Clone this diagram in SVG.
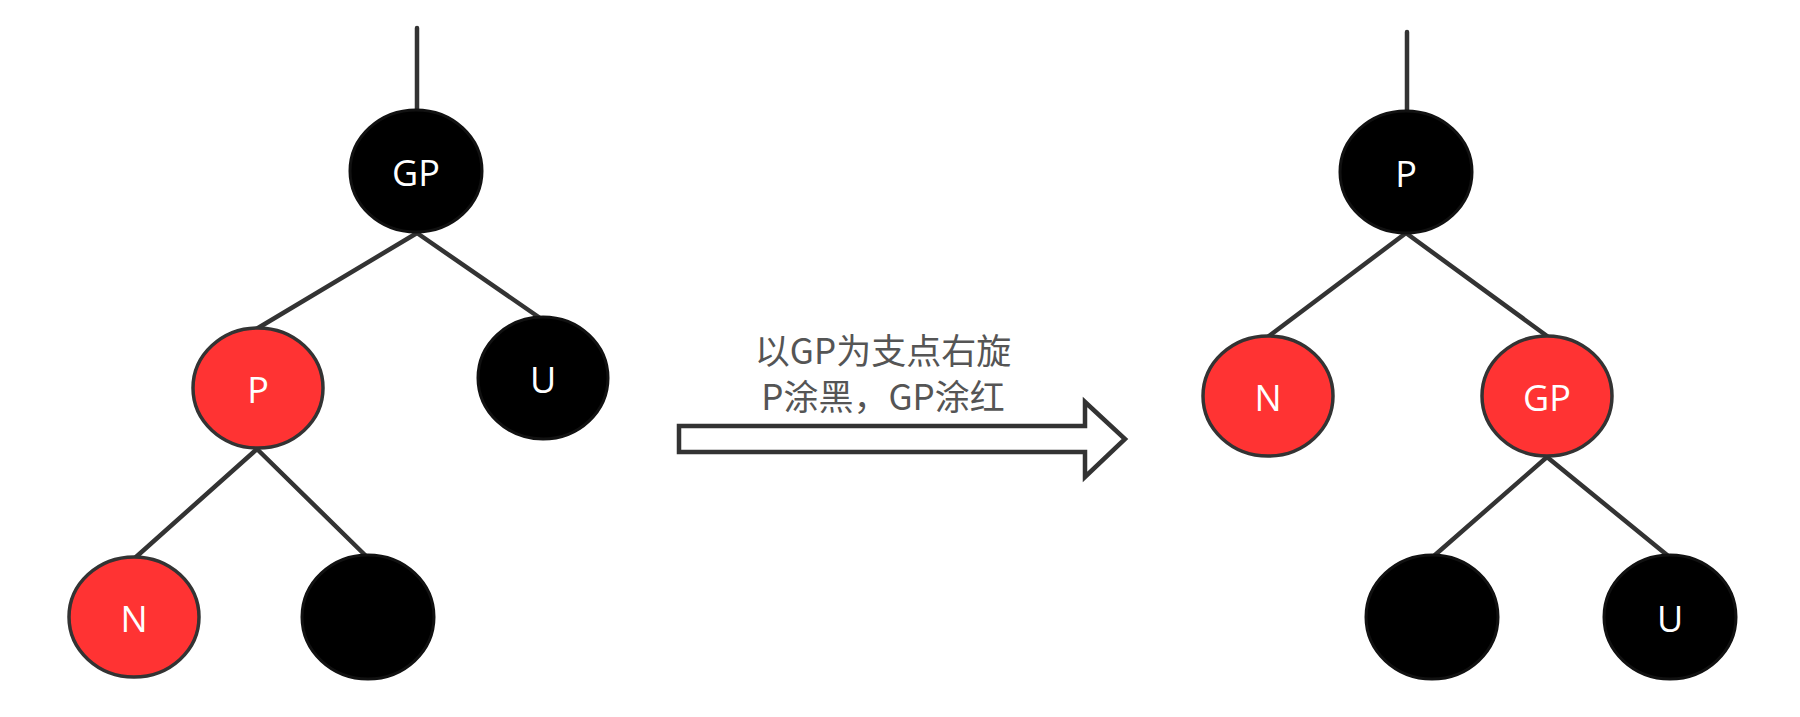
<svg xmlns="http://www.w3.org/2000/svg" width="1800" height="717" viewBox="0 0 1800 717">
<style>
.edge{stroke:#333;stroke-width:4.5;fill:none;stroke-linecap:round}
.blk{fill:#000;stroke:#111;stroke-width:3}
.red{fill:#FF3333;stroke:#333;stroke-width:3.5}
.lbl{font-family:"Open Sans","Noto Sans","DejaVu Sans",sans-serif;font-size:36px;fill:#fff;text-anchor:middle}
.cap{font-family:"Noto Sans CJK SC","Noto Sans",sans-serif;font-size:35px;fill:#555;text-anchor:middle}
</style>
<rect width="1800" height="717" fill="#fff"/>
<g id="connectors">
<line class="edge" x1="417" y1="28" x2="417" y2="112"/>
<line class="edge" x1="417" y1="233" x2="258" y2="328"/>
<line class="edge" x1="417" y1="233" x2="540" y2="318"/>
<line class="edge" x1="257" y1="449" x2="136" y2="557"/>
<line class="edge" x1="257" y1="449" x2="366" y2="556"/>
<line class="edge" x1="1407" y1="32" x2="1407" y2="112"/>
<line class="edge" x1="1406" y1="233" x2="1269" y2="336"/>
<line class="edge" x1="1406" y1="233" x2="1547" y2="336"/>
<line class="edge" x1="1547" y1="457" x2="1435" y2="555"/>
<line class="edge" x1="1547" y1="457" x2="1667" y2="555"/>
</g>
<g id="L-GP"><ellipse class="blk" cx="416" cy="171" rx="66" ry="61"/><text class="lbl" x="416" y="186">GP</text></g>
<g id="L-P"><ellipse class="red" cx="258" cy="388" rx="65" ry="60"/><text class="lbl" x="258" y="403">P</text></g>
<g id="L-U"><ellipse class="blk" cx="543" cy="378" rx="65" ry="61"/><text class="lbl" x="543" y="393">U</text></g>
<g id="L-N"><ellipse class="red" cx="134" cy="617" rx="65" ry="60"/><text class="lbl" x="134" y="632">N</text></g>
<g id="L-leaf"><ellipse class="blk" cx="368" cy="617" rx="66" ry="62"/></g>
<g id="arrow">
<path d="M679,426 L1085,426 L1085,402 L1125,439 L1085,477 L1085,452 L679,452 Z" fill="#fff" stroke="#333" stroke-width="4.5" stroke-linejoin="miter"/>
<text class="cap" x="883" y="364">以GP为支点右旋</text>
<text class="cap" x="883" y="410">P涂黑，GP涂红</text>
</g>
<g id="R-P"><ellipse class="blk" cx="1406" cy="172" rx="66" ry="61"/><text class="lbl" x="1406" y="187">P</text></g>
<g id="R-N"><ellipse class="red" cx="1268" cy="396" rx="65" ry="60"/><text class="lbl" x="1268" y="411">N</text></g>
<g id="R-GP"><ellipse class="red" cx="1547" cy="396" rx="65" ry="60"/><text class="lbl" x="1547" y="411">GP</text></g>
<g id="R-leaf"><ellipse class="blk" cx="1432" cy="617" rx="66" ry="62"/></g>
<g id="R-U"><ellipse class="blk" cx="1670" cy="617" rx="66" ry="62"/><text class="lbl" x="1670" y="632">U</text></g>
</svg>
